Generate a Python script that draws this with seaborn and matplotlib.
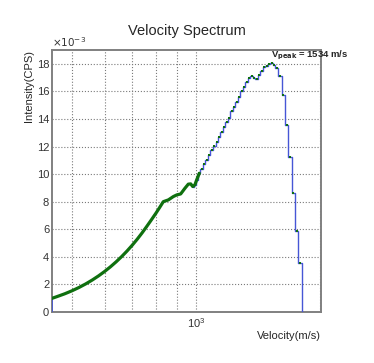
import numpy as np
import pandas as pd
import matplotlib
matplotlib.use('Agg')
import matplotlib.pyplot as plt
import seaborn as sns
from matplotlib.ticker import MultipleLocator, FixedLocator, NullFormatter


# velocity bins (m/s) and intensity in units of 1e-3 CPS
velocity = [447, 460, 480, 500, 520, 540, 560, 580, 600, 620, 640, 660,
            680, 700, 720, 740, 760, 780, 800, 815, 833,
            857, 881, 898, 918, 940, 958, 971, 982, 994, 1004, 1019, 1032,
            1046, 1062, 1077, 1092, 1108, 1123, 1139, 1154, 1171, 1187, 1202,
            1221, 1236, 1255, 1272, 1291, 1310, 1328, 1347, 1365, 1385, 1404,
            1424, 1444, 1465, 1485, 1506, 1527, 1549, 1570, 1599, 1629, 1660,
            1691, 1722, 1756, 1792, 1823]
intensity = [0.99, 1.12, 1.32, 1.54, 1.78, 2.04, 2.32, 2.62, 2.94, 3.28, 3.64, 4.02,
             4.42, 4.84, 5.28, 5.74, 6.22, 6.70, 7.18, 7.55, 8.0,
             8.13, 8.37, 8.49, 8.56, 8.97, 9.27, 9.29, 9.1, 9.22, 9.58, 10.06, 10.36,
             10.72, 11.03, 11.39, 11.76, 12.07, 12.3, 12.66, 13.05, 13.45, 13.81, 14.1,
             14.54, 14.9, 15.26, 15.62, 15.99, 16.35, 16.71, 16.96, 17.08, 16.96, 16.91,
             17.15, 17.49, 17.73, 17.87, 17.97, 18.05, 17.92, 17.7, 17.08, 15.75, 13.55,
             11.25, 8.6, 5.9, 3.58, 0.0]

peak_velocity = 1534
peak_label = r'V$_{\mathbf{peak}}$ = 1534 m/s'

df = pd.DataFrame({'v': velocity, 'I': intensity})
filled = df[(df['I'] > 0) & (df['v'] > 1004)]
dense = df[df['v'] <= 1019]
steps = df[df['v'] >= 982]

sns.set_theme(style='white')
plt.rcParams['font.family'] = ['Liberation Sans', 'DejaVu Sans']

fig = plt.figure(figsize=(3.74, 3.63), dpi=100)
ax = fig.add_axes([0.139, 0.1405, 0.719, 0.7218])

sns.lineplot(data=steps, x='v', y='I', ax=ax, estimator=None, color='#4656d6',
             lw=1.0, drawstyle='steps-mid', zorder=3)
sns.lineplot(data=dense, x='v', y='I', ax=ax, estimator=None, color='#0f700f',
             lw=2.3, zorder=4)
sns.scatterplot(data=filled, x='v', y='I', ax=ax, marker='s', s=4,
                color='#0f700f', linewidth=0, zorder=5)
# left edge of the first bin
ax.vlines(velocity[0], 0, intensity[0], color='#4656d6', lw=1.2, zorder=3)

ax.set_xscale('log')
ax.set_xlim(447, 2011)
ax.set_ylim(0, 19)

ax.xaxis.set_major_locator(FixedLocator([1000]))
ax.xaxis.set_minor_locator(FixedLocator([500, 600, 700, 800, 900, 2000]))
ax.xaxis.set_minor_formatter(NullFormatter())
ax.yaxis.set_major_locator(MultipleLocator(2))
ax.yaxis.set_minor_locator(MultipleLocator(0.4))

ax.grid(which='both', axis='x', color='#7a7a7a', linestyle=':', lw=0.8)
ax.grid(which='major', axis='y', color='#7a7a7a', linestyle=':', lw=0.8)

ax.tick_params(which='both', direction='in', colors='#333333', labelsize=8,
               top=False, right=False, pad=2)
ax.tick_params(axis='y', which='major', length=5, width=0.8)
ax.tick_params(axis='y', which='minor', length=2.5, width=0.8)
ax.tick_params(axis='x', which='major', length=7, width=0.8, pad=3)
ax.tick_params(axis='x', which='minor', length=4, width=0.8)

for side in ['top', 'right', 'left', 'bottom']:
    ax.spines[side].set_color('#808080')
    ax.spines[side].set_linewidth(1.4)

ax.set_xlabel('Velocity(m/s)', loc='right', fontsize=8, labelpad=1)
ax.set_ylabel('Intensity(CPS)', loc='top', fontsize=8, labelpad=2)
ax.set_title('Velocity Spectrum', fontsize=10.5, pad=11)

ax.text(0.0, 1.005, r'$\times10^{-3}$', transform=ax.transAxes, fontsize=7.5,
        ha='left', va='bottom', color='#333333')
ax.text(peak_velocity - 10, max(intensity) + 0.05, peak_label, fontsize=6.8,
        fontweight='bold', ha='left', va='bottom', clip_on=False, zorder=6)

fig.savefig('out.png', dpi=100)
